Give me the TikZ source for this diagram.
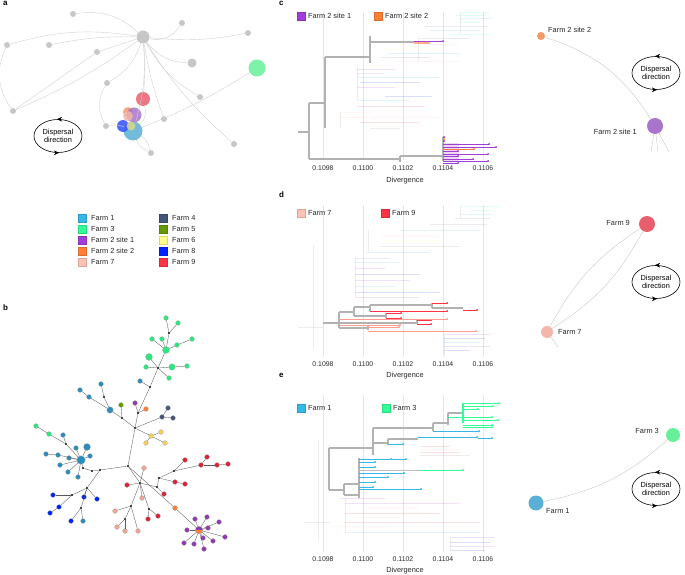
\documentclass[tikz,border=0pt]{standalone}
\usepackage{fontspec}
\setmainfont{Liberation Sans}
\usepackage{tikz}
\usetikzlibrary{positioning, arrows.meta, shapes.geometric}

\definecolor{fone}{HTML}{33B8E8}
\definecolor{fthree}{HTML}{33FF99}
\definecolor{ftwoa}{HTML}{A33DD9}
\definecolor{ftwob}{HTML}{FF8033}
\definecolor{fseven}{HTML}{FFC2B5}
\definecolor{ffour}{HTML}{445577}
\definecolor{ffive}{HTML}{669900}
\definecolor{fsix}{HTML}{FFFF88}
\definecolor{feight}{HTML}{0022FF}
\definecolor{fnine}{HTML}{FF3344}
% darker shades for the network
\definecolor{bone}{HTML}{2B8DBC}
\definecolor{bthree}{HTML}{2EE67F}
\definecolor{bseven}{HTML}{EFA595}
\definecolor{bsix}{HTML}{F3CF5E}
\definecolor{bnine}{HTML}{DD2236}
\definecolor{btwoa}{HTML}{8E3BB0}
% soft shades for the dispersal maps
\definecolor{sone}{HTML}{5AAFD6}
\definecolor{sthree}{HTML}{66F09A}
\definecolor{stwoa}{HTML}{A874CC}
\definecolor{stwob}{HTML}{F59A66}
\definecolor{sseven}{HTML}{F3B6AA}
\definecolor{snine}{HTML}{E8606E}

\tikzset{
  lab/.style={font=\fontsize{7.4}{8.4}\selectfont, inner sep=1pt, text=black!85},
  tick/.style={font=\fontsize{6.9}{8}\selectfont, inner sep=1pt, text=black!85},
  panel/.style={font=\bfseries\fontsize{8}{9}\selectfont, anchor=north west, inner sep=0pt},
  key/.style={draw=#1!85!black, line width=0.3pt, fill=#1, minimum size=7.5bp, inner sep=0pt},
  gnode/.style={circle, fill=black!22, inner sep=0pt, minimum size=6bp},
  anode/.style={circle, fill=#1, fill opacity=0.85, inner sep=0pt},
  edge/.style={black!18, line width=0.4pt},
  jn/.style={circle, fill=black, inner sep=0pt, minimum size=2.4bp},
  bn/.style={circle, fill=#1, draw=black!35, line width=0.2pt, inner sep=0pt, minimum size=4.8bp},
  net/.style={black!65, line width=0.35pt},
  grid/.style={black!10, line width=0.5pt},
  br/.style={black!30, line width=1.3pt},
  leaf/.style={#1, line width=0.6pt, -{Circle[length=1.8bp]}},
  faint/.style={#1, line width=0.35pt, opacity=0.15},
  disp/.style={ellipse, draw, line width=0.6pt, minimum width=48bp, minimum height=33bp, align=center, inner sep=0pt, font=\fontsize{7.4}{8.6}\selectfont},
  rnode/.style={circle, fill=#1, inner sep=0pt},
  arc/.style={black!22, line width=0.4pt}
}
\newcommand\disparrows[1]{%
  \draw[-{Stealth[length=5bp,width=4.6bp]}] (#1.north) ++(3,0) -- ++(-4,0);
  \draw[-{Stealth[length=5bp,width=4.6bp]}] (#1.south) ++(-3,0) -- ++(4,0);}

\begin{document}
\begin{tikzpicture}[x=1bp,y=-1bp]
\useasboundingbox (0,0) rectangle (685,575);

% ---- a
\node[panel] (pa) at (3,1) {a};
\node[gnode, minimum size=13bp] (hub) at (143,37) {};
\foreach \n/\x/\y in {g1/73/14, g2/182/23, g3/248/33, g4/7/45, g5/49/45, g6/97/52, g7/107/83, g8/200/97, g9/13/111, g10/106/126, g11/164/119, g12/234/144, g13/151/153}
  \node[gnode] (\n) at (\x,\y) {};
\node[gnode, minimum size=9bp] (g14) at (192,63) {};
\draw[edge] (g1) to[bend left=25] (hub);
\draw[edge] (hub) to[bend right=35] (g2);
\draw[edge] (hub) to[bend right=8] (g3);
\draw[edge] (g4) to[bend left=12] (hub);
\draw[edge] (g5) to[bend left=6] (hub);
\draw[edge] (g9) to[bend left=30] (g4);
\draw[edge] (g9) -- (g6) -- (hub);
\draw[edge] (g9) to[bend right=6] (hub);
\draw[edge] (hub) to[bend right=25] (g14);
\draw[edge] (hub) to[bend right=15] (g8);
\draw[edge] (hub) to[bend right=8] (g12);
\draw[edge] (hub) to[bend right=5] (g11);
\draw[edge] (hub) to[bend left=20] (g7);
\draw[edge] (g7) to[bend right=30] (g10);
\node[anode=sone, minimum size=19bp] (a1) at (133,131) {};
\node[anode=feight!80!white, minimum size=12bp] (a8) at (123,126) {};
\node[anode=snine, minimum size=14bp] (a9) at (143,99) {};
\node[anode=stwob, minimum size=10bp] (a2b) at (128,112) {};
\node[anode=stwoa, minimum size=15bp] (a2a) at (134,115) {};
\node[anode=sseven, minimum size=10bp] (a7) at (128,116) {};
\node[anode=fsix!70!gray, minimum size=9bp] (a6) at (131,126) {};
\node[anode=sthree, minimum size=17bp] (a3) at (257,68) {};
\draw[edge] (a3) to[bend left=5] (a1);
\draw[edge] (hub) to[bend left=5] (a9);
\draw[edge] (hub) to[bend left=10] (a1);
\draw[edge] (a9) to[bend left=30] (a1);
\draw[edge] (g13) to[bend left=20] (a1);
\draw[edge] (a1) to[bend left=20] (g13);
\draw[edge] (g10) to[bend left=15] (a1);
\node[disp] (da) at (58,136) {Dispersal\\direction};
\disparrows{da}

% legend
\foreach \col/\t [count=\i] in {fone/Farm 1, fthree/Farm 3, ftwoa/Farm 2 site 1, ftwob/Farm 2 site 2, fseven/Farm 7} {
  \node[key=\col] (kl\i) at (82,207+11*\i) {};
  \node[lab, right=4bp of kl\i] (tl\i) {\t};
}
\foreach \col/\t [count=\i] in {ffour/Farm 4, ffive/Farm 5, fsix/Farm 6, feight/Farm 8, fnine/Farm 9} {
  \node[key=\col] (kr\i) at (163,207+11*\i) {};
  \node[lab, right=4bp of kr\i] (tr\i) {\t};
}

% ---- b
\node[panel] (pb) at (3,305) {b};
\foreach \n/\x/\y in {j1/128/466, j2/135/428, j3/150/387, j4/158/368, j5/169/333, j6/138/413, j7/122/418, j8/104/397, j9/100/470, j10/92/471, j11/83/468, j12/66/444, j13/87/488, j14/72/495, j15/81/508, j16/140/483, j17/131/506, j18/125/519, j19/159/478, j20/157/487, j21/149/509, j22/174/471}
  \node[jn] (\n) at (\x,\y) {};
\foreach \n/\x/\y/\col in {b1/166/318/bthree, b2/178/323/bthree, b3/152/339/bthree, b4/162/339/bthree, b6/177/345/bthree, b7/192/339/bthree, b9/146/367/bthree, b11/187/366/bthree, b12/169/378/bthree, b13/36/426/bthree, b14/49/434/bthree,
  c1/140/381/bone, c2/101/384/bone, c3/80/390/bone, c4/89/397/bone, c6/63/435/bone, c7/76/448/bone, c9/46/454/bone, c10/58/455/bone, c11/69/458/bone, c12/90/456/bone, c14/60/465/bone, c15/68/472/bone, c16/78/477/bone, c17/83/521/bone,
  o1/121/405/ffive, p1/135/403/btwoa, r1/146/409/ftwob, r2/175/508/ftwob,
  s1/168/408/ffour, s2/162/417/ffour, s3/173/418/ffour,
  y1/151/436/bsix, y2/161/432/bsix, y3/146/443/bsix, y4/165/443/bsix,
  n1/185/460/bnine, n2/207/457/bnine, n3/201/465/bnine, n4/217/465/bnine, n5/228/464/bnine, n6/175/482/bnine, n7/185/484/bnine, n8/127/485/bnine, n9/164/494/bnine, n10/158/516/bnine, n11/148/519/bnine,
  m1/144/468/bseven, m2/142/498/bseven, m3/115/511/bseven, m4/117/527/bseven, m5/125/531/bseven, m6/138/531/bseven,
  e1/53/495/feight, e2/84/497/feight, e3/97/499/feight, e4/59/507/feight, e5/50/513/feight, e6/71/521/feight,
  p3/195/519/btwoa, p4/207/517/btwoa, p5/219/522/btwoa, p6/208/528/btwoa, p7/187/530/btwoa, p8/203/538/btwoa, p9/213/541/btwoa, p10/225/537/btwoa, p11/184/543/btwoa, p12/194/544/btwoa, p13/204/549/btwoa}
  \node[bn=\col] (\n) at (\x,\y) {};
\node[bn=bthree, minimum size=7bp] (b5) at (166,350) {};
\node[bn=bthree, minimum size=7bp] (b8) at (149,357) {};
\node[bn=bthree, minimum size=6.5bp] (b10) at (172,367) {};
\node[bn=bone, minimum size=6.5bp] (c5) at (110,410) {};
\node[bn=bone, minimum size=7bp] (c8) at (87,447) {};
\node[bn=bone, minimum size=8.5bp] (c13) at (81,460) {};
\node[bn=btwoa, minimum size=7.5bp, path picture={\fill[ftwob] (path picture bounding box.west) rectangle (path picture bounding box.south east);}] (p2) at (199,530) {};
\foreach \a/\b in {j1/j2, j2/j6, j6/j3, j3/j4, j4/b9, j4/b10, b10/b11, j4/b8, j4/b12, j4/b5, b5/b3, b5/b4, b5/b6, b6/b7, b5/j5, j5/b1, j5/b2, j3/c1, j6/p1, j6/r1, j2/s2, s2/s1, s2/s3, j2/y1, y1/y2, y1/y3, y1/y4, j2/j7, j7/o1, j7/c5, c5/j8, j8/c2, c5/c4, c4/c3,
  j1/j9, j9/j10, j10/j11, j11/c13, c13/c8, c13/c7, c13/j12, j12/c6, j12/b14, b14/b13, c13/c10, c10/c9, c13/c11, c13/c12, c13/c14, c13/c15, c13/c16,
  j9/j13, j13/j14, j14/e1, j13/e2, j13/e3, j14/e4, e4/e5, j13/j15, j15/e6, j15/c17,
  j1/j16, j16/n8, j16/m1, j16/m2, j16/j17, j17/m3, j17/j18, j18/m4, j18/m5, j17/m6, j1/r2, r2/p2, j16/j21, j21/n10, j21/n11, j16/j20, j20/n9, j20/j19, j19/j22, j22/n1, j22/n3, n3/n2, n3/n4, n4/n5, j19/n6, n6/n7,
  p2/p3, p2/p4, p2/p5, p2/p6, p2/p7, p2/p8, p2/p9, p2/p10, p2/p11, p2/p12, p2/p13}
  \draw[net] (\a) -- (\b);

% ---- c
\node[panel] (pc) at (279,1) {c};
\foreach \x in {323,363,403,443,483} \draw[grid] (\x,12) -- (\x,160);
\foreach \x/\t in {323/0.1098, 363/0.1100, 403/0.1102, 443/0.1104, 483/0.1106}
  \node[tick] (tc\x) at (\x,168) {\t};
\node[lab] (xc) at (405,181) {Divergence};
\node[key=ftwoa] (kc1) at (301,16) {};
\node[lab, right=2bp of kc1] (tc1) {Farm 2 site 1};
\node[key=ftwob] (kc2) at (378,16) {};
\node[lab, right=2bp of kc2] (tc2) {Farm 2 site 2};
\foreach \a/\b/\y/\col in {460/490/12/fthree, 455/485/15/fthree, 460/492/18/fone, 460/480/22/fthree, 425/487/26/gray, 430/480/30/fone, 450/490/34/fthree, 420/470/38/gray, 418/460/44/fseven, 380/440/48/fsix, 388/460/53/fone, 380/430/57/gray, 395/460/61/fseven, 357/395/69/ftwoa, 357/383/73/gray, 357/440/77/fone, 360/420/82/feight, 357/395/87/ftwoa, 385/432/96/feight, 357/410/100/fone, 357/425/106/fnine, 340/370/112/fseven, 340/440/117/fseven, 360/420/122/fnine, 370/400/128/gray}
  \draw[faint=\col] (\a,\y) -- (\b,\y);
\draw[faint=gray] (357,67) -- (357,100) (340,112) -- (340,128) (460,12) -- (460,34) (418,38) -- (418,61);
\draw[br] (298,132) -- (309,132) (309,103) -- (309,159) (309,103) -- (325,103) (325,57) -- (325,128)
  (325,57) -- (370,57) (370,36) -- (370,63) (370,42) -- (414,42)
  (309,159) -- (400,159) (400,156) -- (400,162) (400,156) -- (443,156) (443,137) -- (443,161);
\draw[ftwob, line width=1.6pt, opacity=0.6] (414,43) -- (430,43);
\draw[leaf=ftwoa] (414,41) -- (444,41);
\fill[ftwoa, opacity=0.2] (443,143) rectangle (459,162);
\foreach \y/\e/\col in {137/445/ftwoa, 139/445/ftwob, 141/445/ftwoa, 144/490/ftwoa, 147/497/ftwoa, 149/475/ftwob, 151/459/ftwoa, 154/489/ftwoa, 156/459/ftwoa, 159/474/ftwoa, 161/489/ftwoa, 163/459/ftwoa}
  \draw[leaf=\col] (443,\y) -- (\e,\y);
\node[rnode=stwob, minimum size=8bp] (c22) at (541,36) {};
\node[lab, anchor=west] (lc22) at (547,30) {Farm 2 site 2};
\node[rnode=stwoa, minimum size=16bp] (c21) at (655,126) {};
\node[lab, anchor=east] (lc21) at (638,132) {Farm 2 site 1};
\draw[arc] (c22) to[bend left=20] (c21);
\coordinate (cd1) at (651,152);
\coordinate (cd2) at (658,152);
\coordinate (cd3) at (669,152);
\draw[arc] (c21) -- (cd1) (c21) -- (cd2) (c21) -- (cd3);
\node[disp] (dc) at (656,73) {Dispersal\\direction};
\disparrows{dc}

% ---- d
\node[panel] (pd) at (279,192) {d};
\foreach \x in {323,363,403,443,483} \draw[grid] (\x,205) -- (\x,357);
\foreach \x/\t in {323/0.1098, 363/0.1100, 403/0.1102, 443/0.1104, 483/0.1106}
  \node[tick] (td\x) at (\x,364) {\t};
\node[lab] (xd) at (405,376) {Divergence};
\node[key=fseven] (kd1) at (301,213) {};
\node[lab, right=2bp of kd1] (td1) {Farm 7};
\node[key=fnine] (kd2) at (385,213) {};
\node[lab, right=2bp of kd2] (td2) {Farm 9};
\foreach \a/\b/\y/\col in {460/500/206/fthree, 470/495/210/fthree, 460/490/214/fone, 455/490/218/gray, 430/487/224/gray, 400/480/230/fone, 380/440/236/fseven, 380/440/240/fsix, 380/460/246/gray, 365/430/252/fone, 355/390/258/gray, 355/400/262/fone, 355/385/268/ftwoa, 355/420/274/feight, 355/410/280/ftwoa, 355/395/286/fone, 355/440/292/feight, 355/420/297/ftwoa, 444/490/334/ftwoa, 444/485/338/feight, 444/480/342/fone, 444/490/346/ftwoa, 444/470/350/feight, 298/323/327/gray}
  \draw[faint=\col] (\a,\y) -- (\b,\y);
\draw[faint=gray] (355,258) -- (355,297) (368,230) -- (368,252) (444,334) -- (444,355) (460,206) -- (460,218) (313,245) -- (313,350);
\draw[br] (323,323) -- (339,323) (339,312) -- (339,328) (339,312) -- (354,312) (354,307) -- (354,316)
  (354,307) -- (370,307) (370,305) -- (370,311) (370,305) -- (432,305) (432,303) -- (432,308)
  (354,316) -- (386,316) (386,313) -- (386,318) (339,323) -- (417,323) (417,320) -- (417,324)
  (339,328) -- (368,328) (368,326) -- (368,330) (432,308) -- (463,308);
\foreach \a/\b/\y/\col in {432/448/303/fnine, 463/478/310/fnine, 370/448/311/fnine, 386/402/313/fnine, 386/402/318/fnine, 417/432/320/fnine, 417/432/324/fnine}
  \draw[leaf=\col] (\a,\y) -- (\b,\y);
\foreach \a/\b/\y in {339/448/319, 339/401/325, 368/400/327, 368/477/331}
  \draw[leaf=fseven!80!red] (\a,\y) -- (\b,\y);
\node[rnode=snine, minimum size=16bp] (d9) at (647,224) {};
\node[lab, anchor=east] (ld9) at (631,223) {Farm 9};
\node[rnode=sseven, minimum size=12bp] (d7) at (547,332) {};
\node[lab, anchor=west] (ld7) at (557,332) {Farm 7};
\draw[arc] (d7) to[bend left=14] (d9);
\draw[arc] (d7) to[bend right=14] (d9);
\coordinate (dd1) at (558,347);
\draw[arc] (d7) -- (dd1);
\node[disp] (dd) at (656,282) {Dispersal\\direction};
\disparrows{dd}

% ---- e
\node[panel] (pe) at (279,373) {e};
\foreach \x in {323,363,403,443,483} \draw[grid] (\x,395) -- (\x,552);
\foreach \x/\t in {323/0.1098, 363/0.1100, 403/0.1102, 443/0.1104, 483/0.1106}
  \node[tick] (te\x) at (\x,559) {\t};
\node[lab] (xe) at (405,571) {Divergence};
\node[key=fone] (ke1) at (301,408) {};
\node[lab, right=2bp of ke1] (te1) {Farm 1};
\node[key=fthree] (ke2) at (386,408) {};
\node[lab, right=2bp of ke2] (te2) {Farm 3};
\foreach \a/\b/\y/\col in {339/385/498/ftwoa, 345/460/503/ftwoa, 365/420/508/fseven, 345/440/513/fnine, 360/400/517/fseven, 345/480/522/fnine, 330/390/526/fseven, 345/480/532/fone, 450/495/537/ftwoa, 450/490/542/feight, 450/495/546/ftwoa, 450/485/550/feight, 305/330/522/gray, 420/460/452/fnine, 420/450/446/fnine, 420/460/449/fseven, 420/470/455/gray}
  \draw[faint=\col] (\a,\y) -- (\b,\y);
\draw[faint=gray] (345,498) -- (345,532) (450,537) -- (450,550) (318,440) -- (318,540);
\draw[br] (329,448) -- (329,490) (329,448) -- (373,448) (373,428) -- (373,455) (373,428) -- (433,428)
  (433,423) -- (433,431) (433,423) -- (448,423) (448,413) -- (448,425) (448,413) -- (463,413)
  (373,443) -- (388,443) (388,439) -- (388,445) (388,439) -- (418,439)
  (329,490) -- (344,490) (344,484) -- (344,495) (344,484) -- (359,484) (359,458) -- (359,498) (344,495) -- (360,495);
\draw[fthree, line width=1.2pt] (463,403) -- (463,423);
\foreach \a/\y/\b in {463/403/500, 463/406/494, 463/409/479, 448/417/493, 463/420/499, 463/425/493, 463/427/493}
  \draw[leaf=fthree] (\a,\y) -- (\b,\y);
\foreach \a/\y/\b in {433/431/480, 418/437/478, 478/438/493, 388/444/404, 359/459/392, 392/459/407, 359/462/376, 359/467/376, 359/473/405, 359/477/389, 359/482/376, 359/487/374, 359/489/422}
  \draw[leaf=fone] (\a,\y) -- (\b,\y);
\draw[black!25, line width=0.5pt] (359,470) -- (419,470);
\draw[leaf=fthree] (419,470) -- (464,470);
\node[rnode=sthree, minimum size=14bp] (e3) at (673,435) {};
\node[lab, anchor=east] (le3) at (660,431) {Farm 3};
\node[rnode=sone, minimum size=15bp] (e1) at (536,503) {};
\node[lab, anchor=west] (le1) at (545,511) {Farm 1};
\draw[arc] (e1) to[bend right=15] (e3);
\node[disp] (de) at (656,489) {Dispersal\\direction};
\disparrows{de}
\end{tikzpicture}
\end{document}
